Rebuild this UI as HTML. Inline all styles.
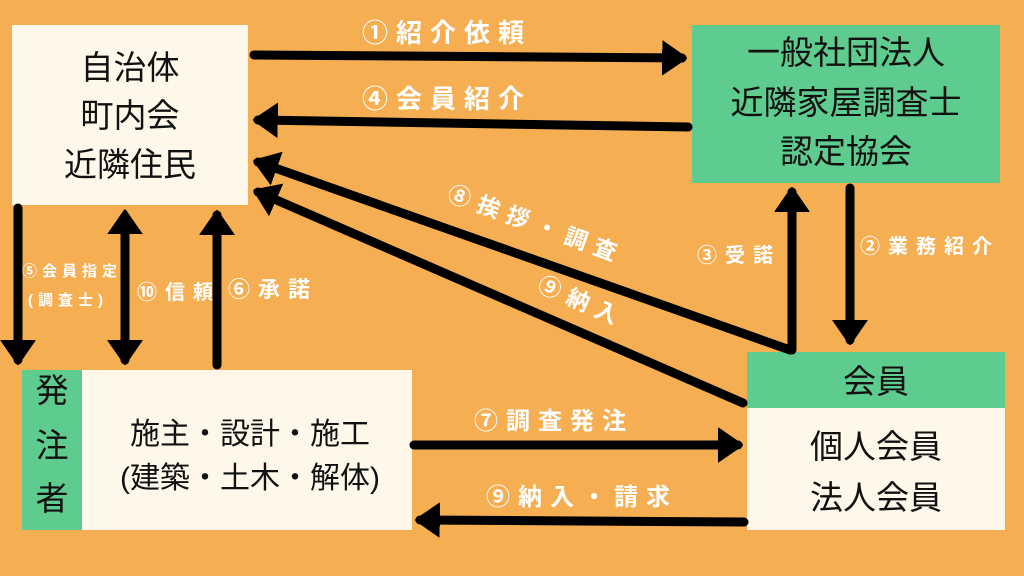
<!DOCTYPE html>
<html><head><meta charset="utf-8"><style>
html,body{margin:0;padding:0;background:#F5AE52;}
svg{display:block}
.b{font-family:"Liberation Sans","Noto Sans CJK JP",sans-serif;fill:#111;}
.w{font-family:"Liberation Sans","Noto Sans CJK JP",sans-serif;fill:#fff;font-weight:bold;letter-spacing:8px;}
</style></head><body>
<svg width="1024" height="576" viewBox="0 0 1024 576" xmlns="http://www.w3.org/2000/svg">
<defs>
<marker id="a" markerWidth="4" markerHeight="4" refX="2.2" refY="2" orient="auto" markerUnits="strokeWidth">
<path d="M0,0.2 L2.6,2 L0,3.8 Z" fill="#000" stroke="#000" stroke-width="0.3" stroke-linejoin="round"/>
</marker>
<marker id="s" markerWidth="4" markerHeight="4" refX="1.8" refY="2" orient="auto-start-reverse" markerUnits="strokeWidth">
<path d="M0,0.2 L2.6,2 L0,3.8 Z" fill="#000" stroke="#000" stroke-width="0.3" stroke-linejoin="round"/>
</marker>
</defs>
<rect width="1024" height="576" fill="#F5AE52"/>
<rect x="12" y="25" width="236" height="180" fill="#FFF8EA"/>
<rect x="692" y="25" width="308" height="158" fill="#5ECC8F"/>
<rect x="22" y="370" width="60" height="160" fill="#5ECC8F"/>
<rect x="82" y="370" width="330" height="160" fill="#FFF8EA"/>
<rect x="747" y="352" width="258" height="56" fill="#5ECC8F"/>
<rect x="747" y="408" width="258" height="122" fill="#FFF8EA"/>
<g class="b" font-size="33" text-anchor="middle">
<text x="130" y="79">自治体</text>
<text x="130" y="127">町内会</text>
<text x="130" y="176">近隣住民</text>
<text x="846" y="64">一般社団法人</text>
<text x="846" y="114">近隣家屋調査士</text>
<text x="846" y="163">認定協会</text>
<text x="52" y="402">発</text>
<text x="52" y="457">注</text>
<text x="52" y="510">者</text>
<text x="876" y="393">会員</text>
<text x="876" y="458">個人会員</text>
<text x="876" y="509">法人会員</text>
</g>
<g class="b" font-size="30" text-anchor="middle">
<text x="250" y="444">施主・設計・施工</text>
<text x="250" y="488">(建築・土木・解体)</text>
</g>
<g stroke="#000" stroke-width="9" stroke-linecap="round" fill="none">
<line x1="254" y1="55" x2="682" y2="58" marker-end="url(#a)"/>
<line x1="688" y1="127" x2="258" y2="120" marker-end="url(#a)"/>
<line x1="850" y1="188" x2="850" y2="340" marker-end="url(#a)"/>
<line x1="792" y1="350" x2="792" y2="192" marker-end="url(#a)"/>
<line x1="790" y1="350" x2="258" y2="162" marker-end="url(#a)"/>
<line x1="743" y1="403" x2="258" y2="192" marker-end="url(#a)"/>
<line x1="18" y1="208" x2="18" y2="360" marker-end="url(#a)"/>
<line x1="125" y1="218" x2="125" y2="360" marker-start="url(#s)" marker-end="url(#a)"/>
<line x1="217" y1="365" x2="217" y2="215" marker-end="url(#a)"/>
<line x1="414" y1="445" x2="738" y2="445" marker-end="url(#a)"/>
<line x1="744" y1="522" x2="420" y2="520" marker-end="url(#a)"/>
</g>
<g class="w">
<text x="362" y="42" font-size="26">①紹介依頼</text>
<text x="362" y="108" font-size="26">④会員紹介</text>
<text x="860" y="253" font-size="20">②業務紹介</text>
<text x="697" y="262" font-size="20">③受諾</text>
<text x="22" y="276" font-size="15" letter-spacing="5">⑤会員指定</text>
<text x="28" y="305" font-size="15" letter-spacing="5">(調査士)</text>
<text x="137" y="299" font-size="20">⑩信頼</text>
<text x="228" y="297" font-size="22">⑥承諾</text>
<text x="0" y="0" font-size="23" transform="translate(446,200) rotate(20)">⑧挨拶・調査</text>
<text x="0" y="0" font-size="23" transform="translate(536,290) rotate(24)">⑨納入</text>
<text x="474" y="429" font-size="24">⑦調査発注</text>
<text x="486" y="505" font-size="24">⑨納入・請求</text>
</g>
</svg>
</body></html>
